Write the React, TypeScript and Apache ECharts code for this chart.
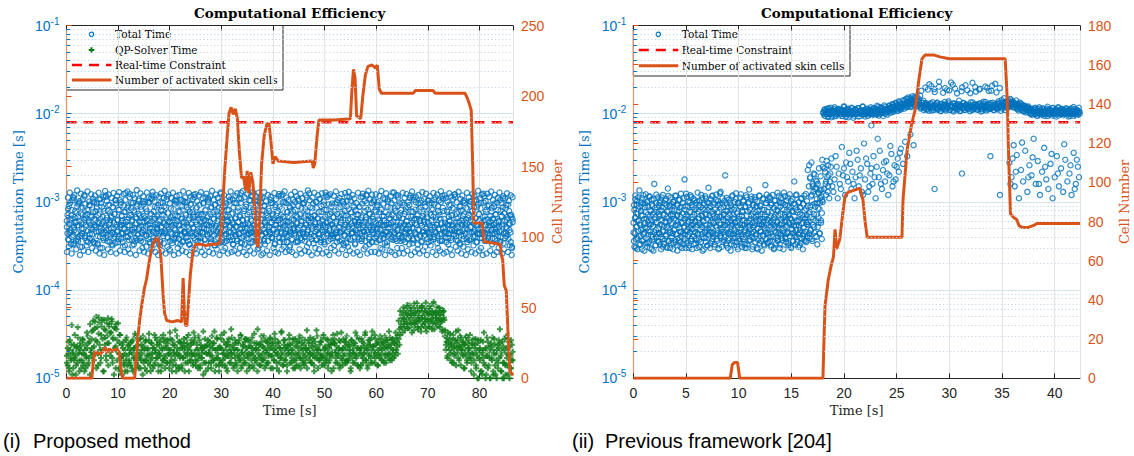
import { useEffect, useRef } from 'react';
import * as echarts from 'echarts';

const BLUE = '#0072BD';
const ORANGE = '#D95319';
const GREEN = '#0E7A16';
const RED = '#FF0000';
const AX = '#262626';
const SERIF = '"DejaVu Serif", serif';
const SANS = '"Liberation Sans", Arial, sans-serif';

// ---------- panel (i): Proposed method ----------
const leftSpan = [0, 86.5];
const leftCellsMax = 250;
// Total time, three uniformly sampled read-outs of the cloud, unit 1e-5 s
const blueLeft = [
  52,71,38,90,45,63,33,81,57,42,110,48,67,36,75,54,95,40,61,31,86,50,44,72,58,120,39,66,47,83,35,60,
  92,43,55,70,37,101,49,64,34,78,53,88,41,59,46,74,30,97,56,68,39,84,51,45,115,62,36,79,48,93,58,42,
  67,33,87,50,73,40,104,55,46,62,38,81,52,94,44,69,35,58,77,49,126,41,63,54,90,37,71,47,85,60,32,98,
  45,76,56,39,65,89,43,107,51,70,36,82,59,48,95,42,66,53,31,78,61,100,46,57,34,73,50,118,40,64,88,55,
  38,69,49,92,44,60,35,80,53,72,41,111,57,47,86,63,39,75,52,29,96,45,67,58,37,83,50,70,43,99,61,34,
  79,54,42,91,48,65,36,103,57,46,74,39,87,52,62,33,77,44,95,58,41,68,50,113,37,84,55,47,71,40,93,60,
  35,73,51,45,98,62,38,82,56,43,69,106,48,59,34,88,53,41,76,64,32,94,47,57,72,39,85,51,44,124,66,37,
  90,55,42,70,49,36,81,61,46,101,54,40,74,58,33,87,45,65,52,96,38,78,59,43,68,35,109,50,63,41,83,56,
  47,94,39,72,57,44,86,34,64,51,117,41,77,55,48,91,37,68,60,30,80,46,99,53,42,71,38,89,58,45,75,62,
  36,84,52,43,105,59,40,73,49,66,33,92,55,46,79,62,39,88,50,71,44,122,57,35,67,53,97,41,76,48,60,31,
  86,45,63,38,78,54,47,100,42,69,57,35,90,51,44,74,61,37,95,49,66,40,83,55,112,46,70,34,58,87,43,64,
  50,96,41,71,56,37,85,48,65,44,108,53,39,77,60,46,93,35,68,52,81,42,59,119,47,73,38,89,55,43,66,32,
  78,57,45,99,40,67,51,36,87,62,47,74,34,94,55,42,70,58,103,39,83,49,64,37,76,53,45,91,61,33,80,48,
  44,72,59,38,88,50,66,41,115,54,46,79,36,63,97,48,57,40,73,52,85,35,68,45,101,60,39,77,51,43,93,56,
  62,37,82,48,69,43,95,55,34,76,58,45,107,41,65,52,86,38,71,47,60,128,44,79,54,36,90,50,67,42,75,58,
  40,98,53,46,73,35,84,61,49,68,39,92,56,44,78,51,113,37,64,57,82,43,70,33,96,48,61,41,87,54,45,74,
  59,42,89,50,66,38,104,57,45,75,36,83,52,68,40,95,47,62,55,34,79,49,71,43,99,58,37,86,51,64,46,110,
  35,77,56,44,93,61,39,70,48,85,53,42,121,58,37,74,50,66,45,88,33,80,57,47,69,41,97,54,63,38,83,49,
  71,45,102,52,38,79,60,46,88,41,65,54,35,94,50,73,43,84,57,39,67,48,116,62,44,77,36,90,53,58,42,69,
  48,85,39,63,55,96,43,72,51,37,81,59,46,105,40,68,53,87,34,75,61,44,92,50,66,38,79,56,45,71,30,64,
];
const blueLeft2 = [
  61,44,83,37,56,97,48,70,40,65,113,52,34,78,59,45,89,38,67,53,102,42,74,57,31,86,49,63,41,95,55,36,72,47,81,
  58,39,92,50,68,43,76,35,99,54,62,46,84,33,71,57,107,40,64,51,88,44,60,37,79,53,118,48,66,42,93,56,35,75,50,
  69,45,87,39,58,73,34,96,52,63,47,82,41,105,55,38,70,61,44,91,50,32,77,59,46,85,40,66,54,123,43,71,37,62,48,
  80,51,36,67,57,94,42,73,49,60,39,88,53,45,101,35,69,58,47,83,41,64,55,38,97,50,74,43,61,109,46,78,33,65,52,
  44,86,56,41,72,63,37,98,51,46,79,58,34,90,45,67,54,115,40,75,49,60,36,84,53,43,70,62,39,95,48,57,104,42,68,
  55,38,77,49,64,42,89,35,60,52,100,44,71,57,40,82,47,65,33,93,56,45,76,51,120,39,68,59,43,87,36,63,50,74,46,
  39,71,59,45,96,50,37,80,62,48,66,41,110,54,44,73,35,86,57,49,64,42,92,53,38,78,61,46,69,34,99,52,43,83,58,
  72,47,35,90,55,43,68,60,40,81,52,106,45,63,37,75,56,48,97,41,66,53,36,85,59,44,71,50,127,39,62,54,46,79,33,
  50,88,42,64,57,38,76,48,103,45,61,35,83,54,69,43,94,51,40,73,58,47,112,37,65,55,42,80,49,36,91,60,44,70,53,
  66,41,79,52,45,97,58,39,70,48,62,34,87,55,43,75,51,116,40,64,57,46,84,38,68,53,99,44,61,49,35,77,59,42,89,
  47,74,56,37,92,50,63,44,81,35,58,67,49,108,42,72,54,39,86,60,45,95,51,36,70,57,43,78,48,62,125,40,66,53,38,
  85,53,41,69,59,46,100,38,65,52,77,43,57,35,90,48,63,55,40,82,47,118,58,44,71,36,94,50,61,42,76,56,39,67,51,
  43,96,60,48,73,39,84,52,45,66,58,37,102,49,70,41,79,55,34,89,46,62,53,113,38,75,57,44,68,50,87,40,59,47,72,
  57,40,71,55,88,44,62,36,95,51,47,76,59,42,67,121,45,82,53,38,73,61,48,98,35,64,52,43,80,56,41,91,49,63,37,
  76,49,58,42,83,54,39,69,61,107,46,55,35,88,50,72,43,64,57,97,40,74,52,45,85,38,66,59,47,119,42,70,54,36,81,
  51,65,37,93,56,44,78,49,60,38,86,53,46,111,41,68,58,34,77,50,63,45,99,55,39,72,48,84,42,61,57,104,36,69,47,
  63,42,87,50,74,46,59,35,96,54,40,71,62,48,82,38,105,52,45,67,57,41,90,49,76,36,64,56,43,117,51,79,44,58,39,
  45,80,54,39,68,60,48,92,37,71,56,43,84,50,114,41,65,53,36,77,59,46,89,42,62,55,101,38,73,49,44,86,57,35,66,
  70,37,94,52,61,45,79,40,57,102,48,66,35,87,54,43,73,62,39,97,50,58,46,124,41,69,55,37,82,48,63,44,91,53,60,
  54,78,43,65,50,89,38,72,58,46,98,41,61,53,36,80,47,69,56,110,44,74,39,85,52,63,42,93,57,48,71,35,67,31,59,
];
const blueLeft3 = [
  27,112,31,128,45,26,104,33,119,58,29,135,36,98,25,124,41,107,28,115,70,32,131,27,101,38,122,30,109,52,
  118,28,96,34,127,26,108,47,30,114,25,133,39,102,29,121,62,27,111,32,126,43,105,26,117,35,129,28,99,55,
  31,123,27,106,40,131,29,113,26,97,48,120,33,110,25,136,37,103,28,125,66,30,116,27,100,42,128,26,112,35,
  109,29,130,36,101,27,119,51,25,114,32,124,28,98,44,134,26,107,31,121,59,28,111,34,127,25,104,39,117,30,
  26,120,33,105,28,132,46,112,27,99,36,126,25,115,30,108,72,29,123,26,102,41,118,31,129,27,110,54,25,113,
  124,31,100,27,116,38,134,26,106,32,121,29,111,49,25,128,35,103,28,119,30,96,63,26,114,37,131,27,107,33,
  28,117,42,125,26,109,30,98,34,133,27,113,57,25,122,31,104,28,118,45,129,26,101,36,115,29,127,32,110,25,
  111,26,129,33,102,28,120,47,25,114,39,97,30,126,27,108,61,26,123,35,117,29,99,31,132,27,112,40,105,28,
  32,121,27,106,50,130,25,116,36,103,29,124,26,110,43,98,28,119,31,135,27,104,68,25,112,34,127,30,100,26,
  119,29,108,37,125,26,101,33,128,27,114,53,25,122,30,96,41,117,28,131,35,105,26,111,46,123,29,99,32,126,
  25,115,31,130,28,103,44,120,26,109,34,97,27,127,60,25,113,38,124,29,102,31,118,26,134,33,107,27,121,48,
  105,27,122,35,99,26,117,30,133,29,110,42,25,125,32,101,56,28,116,27,128,37,104,25,119,30,112,26,96,39,
  30,127,26,111,45,123,28,100,33,118,25,131,38,106,27,114,64,29,120,26,98,35,129,28,108,31,124,25,103,43,
  116,32,97,27,126,40,113,25,121,30,104,28,132,36,109,26,119,52,27,101,33,125,29,115,25,107,47,122,31,99,
  28,130,34,108,26,118,31,103,58,25,127,29,112,37,100,27,123,32,117,26,106,44,134,28,110,30,121,25,98,36,
  102,26,124,39,114,28,131,33,105,25,120,49,27,111,30,128,35,97,26,116,29,109,41,125,27,103,32,119,25,113,
];
// QP-solver time, two uniformly sampled read-outs, unit 1e-6 s
const greenLeft = [
  18,14,26,12,21,16,40,19,13,24,17,11,22,15,29,20,
  16,23,13,19,27,15,12,21,18,33,14,25,17,11,20,28,
  22,35,16,44,27,13,38,19,49,24,15,31,46,21,12,36,
  29,18,42,25,14,39,33,20,47,17,28,11,37,23,41,16,
  20,13,25,31,17,11,22,15,19,12,27,18,14,24,16,21,
  14,26,19,12,22,17,30,15,20,24,13,18,28,16,21,11,
  23,16,13,27,18,21,15,32,19,12,25,17,22,14,20,29,
  17,24,20,14,19,26,12,22,16,31,18,13,23,15,27,19,
  21,15,28,18,12,24,20,16,35,14,22,19,26,13,17,25,
  13,22,17,25,20,15,29,18,23,12,21,16,27,19,14,33,
  26,18,14,21,16,30,19,13,24,17,22,11,20,28,15,23,
  19,27,15,20,23,13,18,25,16,34,21,14,29,17,22,12,
  16,22,31,14,19,26,17,21,13,24,18,28,15,20,36,19,
  24,14,19,27,15,21,12,25,18,16,30,20,14,23,17,26,
  15,28,20,17,23,13,26,19,22,14,18,32,16,21,25,12,
  21,17,24,14,30,19,16,22,13,27,20,15,25,18,23,29,
  18,25,13,21,16,28,23,15,19,26,12,22,17,33,20,14,
  27,16,22,18,14,24,20,31,15,21,17,25,13,19,28,16,
  14,23,19,26,17,13,29,21,16,24,18,15,22,35,20,27,
  22,18,15,25,20,28,14,17,23,19,30,13,21,16,26,18,
  17,29,21,14,23,16,19,27,15,22,18,24,12,20,31,25,
  25,15,20,32,18,22,13,26,17,21,14,28,19,23,16,30,
  16,24,18,21,13,27,20,15,25,19,33,17,22,14,28,21,
  20,14,26,17,23,19,31,16,22,13,24,18,27,15,21,34,
  23,18,15,28,20,25,14,21,17,30,19,24,16,26,22,18,
  15,27,22,19,34,16,24,18,28,21,17,25,20,29,23,31,
  45,36,58,41,52,33,64,47,39,55,43,68,37,50,60,42,
  53,40,62,35,48,57,44,71,38,51,46,59,34,65,49,41,
  56,43,37,61,47,53,39,66,45,58,36,50,73,42,55,48,
  40,57,46,63,38,52,44,60,35,49,30,21,26,17,33,23,
  28,19,24,15,31,22,18,27,14,25,20,35,16,23,29,19,
  21,26,13,24,18,30,15,22,27,17,20,12,25,19,28,16,
  24,14,20,10,27,17,22,12,19,11,26,15,21,10,18,29,
  13,23,17,10,25,16,21,11,28,14,19,10,24,15,22,36,
  18,12,26,15,10,21,14,30,17,11,23,19,13,27,16,20,
];
const greenLeft2 = [
  15,22,19,13,27,17,24,11,20,16,31,18,14,23,38,19,12,25,
  21,16,28,14,19,24,13,17,22,30,15,26,41,20,34,18,45,23,
  37,19,50,26,14,32,43,21,17,39,28,12,46,24,35,16,30,48,
  25,41,18,33,44,15,29,38,22,13,36,27,42,19,31,12,17,24,
  18,26,14,21,16,29,12,23,19,15,25,20,13,27,17,22,32,16,
  23,14,20,28,17,13,24,19,30,15,21,26,16,12,22,18,27,14,
  16,25,19,13,22,31,15,20,27,17,12,24,18,29,14,21,16,26,
  28,17,22,15,25,19,13,33,21,16,27,14,20,24,18,12,30,19,
  13,21,26,18,14,23,17,28,12,22,19,25,15,31,20,16,24,18,
  25,15,19,29,16,21,24,13,18,27,14,22,17,20,34,15,23,12,
  19,24,13,20,26,18,15,30,22,16,25,12,21,17,28,19,14,23,
  15,28,21,16,19,33,14,24,18,12,26,20,23,15,17,29,21,13,
  22,17,25,14,21,18,27,16,31,13,20,24,19,15,28,22,12,18,
  27,14,19,23,16,29,20,13,25,17,22,15,36,19,24,14,18,26,
  16,23,30,17,20,14,26,21,15,19,28,13,22,18,25,16,32,20,
  20,13,18,25,15,22,17,34,19,14,24,27,16,21,12,23,19,28,
  24,19,15,21,28,16,13,23,18,26,20,14,30,17,22,25,15,19,
  14,27,22,17,13,20,25,16,29,19,15,23,18,12,26,21,35,17,
  21,16,24,19,26,14,18,31,15,22,17,28,20,13,24,16,19,27,
  18,25,13,28,20,17,23,15,19,27,14,21,33,16,22,18,26,15,
  26,15,21,16,24,19,12,27,17,23,20,15,25,18,30,14,22,19,
  13,22,28,18,15,25,20,33,16,21,14,27,19,24,17,29,15,23,
  20,31,17,24,19,14,26,18,22,28,16,21,25,15,30,19,23,27,
  17,24,19,29,22,16,27,20,25,18,33,21,26,19,28,24,31,38,
  48,39,57,44,35,62,50,41,54,37,67,46,59,33,52,43,70,40,
  55,42,63,36,49,58,45,38,66,51,40,60,47,72,34,56,44,53,
  38,61,47,54,42,69,36,57,50,45,64,39,52,59,43,47,34,56,
  58,46,35,24,29,18,26,21,32,16,25,20,28,15,23,19,34,22,
  27,17,23,30,14,21,26,18,24,13,20,29,16,25,19,22,31,17,
  15,24,19,11,22,28,13,18,25,10,21,16,27,12,20,17,33,14,
  22,11,18,26,14,20,10,23,17,29,12,19,24,11,16,21,13,27,
  17,25,12,20,10,23,15,28,11,19,14,22,26,10,18,13,24,16,
];
// Number of activated skin cells [time s, cells]
const cellsLeft = [
  [0,0],[4.9,0],[5.2,12],[5.5,19],[6.0,18],[6.5,17],[7.0,19],[7.5,22],[7.9,18],[8.3,21],[8.8,19],[9.3,20],
  [9.8,21],[10.2,18],[10.6,6],[10.9,0],[13.2,0],[13.5,14],[13.8,28],[14.2,42],[14.7,55],[15.1,64],[15.5,70],
  [16.0,82],[16.5,92],[17.0,97],[17.5,100],[17.9,97],[18.3,85],[18.7,60],[19.0,46],[19.4,41],[20.5,40],
  [21.5,41],[22.3,40],[22.6,71],[22.8,50],[23.0,38],[23.3,37],[23.6,52],[24.0,74],[24.5,90],[25.0,95],
  [26.0,95],[27.0,94],[28.0,95],[29.0,95],[29.7,96],[30.0,105],[30.3,125],[30.7,150],[31.1,170],[31.5,188],
  [31.9,192],[32.3,187],[32.7,191],[33.1,184],[33.5,160],[33.9,142],[34.3,143],[34.7,133],[35.0,147],
  [35.3,131],[35.7,146],[36.1,139],[36.5,120],[36.8,96],[37.1,93],[37.4,112],[37.8,152],[38.3,172],
  [38.8,180],[39.2,181],[39.6,168],[40.0,152],[40.4,157],[41.0,154],[44.0,153],[47.6,154],[47.8,149],
  [48.1,152],[48.5,170],[48.9,183],[52.0,183],[55.0,184],[55.3,205],[55.6,219],[55.9,213],[56.2,186],
  [57.0,184],[57.4,200],[57.9,215],[58.4,221],[59.2,222],[59.8,220],[60.2,222],[60.6,205],[61.0,202],
  [67.2,202],[67.6,204],[71.0,204],[71.4,202],[77.2,202],[77.6,199],[78.0,195],[78.4,190],[78.7,150],
  [78.9,110],[80.5,110],[80.9,97],[84.0,95],[84.2,88],[84.5,84],[84.8,66],[85.2,62],[85.5,35],[85.9,5],[86.5,2],
];

// ---------- panel (ii): Previous framework ----------
const rightSpan = [0, 42.4];
const rightCellsMax = 180;
const rightSwitch = 18.0;
// Total time before 18 s, unit 1e-5 s
const blueRightEarly = [
  45,92,31,66,118,38,74,53,102,29,61,84,41,135,57,33,79,48,110,36,70,95,43,58,28,87,51,122,39,64,
  99,34,72,47,115,56,30,81,62,42,106,37,90,53,28,76,160,45,67,32,97,59,40,85,113,50,35,73,44,104,
  63,29,88,54,38,120,46,71,33,96,60,41,108,31,78,52,142,36,66,91,48,30,112,57,39,83,69,44,100,34,
  80,49,117,35,62,43,94,28,71,55,105,37,86,46,31,124,58,40,75,98,33,64,51,180,42,89,30,68,114,47,
  36,101,59,32,77,45,119,54,38,92,29,67,49,109,41,83,61,34,97,52,30,74,128,44,65,37,103,56,31,87,
  70,43,111,28,60,93,39,81,50,116,35,72,47,99,32,63,145,42,85,55,30,107,46,78,36,118,58,40,69,94,
  33,84,53,121,38,66,44,102,29,76,57,95,41,130,48,68,31,110,52,87,37,73,42,200,61,34,96,49,79,30,
  59,106,39,71,46,28,91,54,115,36,65,43,82,32,100,57,48,125,35,74,60,29,98,45,69,38,112,51,86,41,
  31,77,62,104,40,55,33,89,47,119,30,70,58,43,96,36,138,53,81,37,64,108,44,29,75,52,92,39,113,57,
  88,42,68,30,101,50,37,79,61,117,34,90,46,56,28,83,65,41,109,54,32,72,155,47,97,38,63,105,44,35,
  66,114,36,58,93,31,75,49,120,40,62,29,86,53,103,45,34,80,59,127,37,70,51,99,30,88,43,111,56,39,
  97,47,29,82,60,116,39,67,35,104,53,44,91,32,73,58,122,41,85,30,63,49,107,36,78,54,170,42,94,33,
  54,121,40,76,48,31,99,62,45,87,34,110,57,38,71,29,95,51,118,43,66,36,84,59,102,41,230,55,74,260,
  39,190,88,47,280,120,36,150,64,210,52,95,140,41,175,72,108,33,160,85,58,125,44,98,135,62,115,38,105,250,
];
const blueRightEarly2 = [
  58,36,81,44,107,30,67,52,93,39,74,113,47,62,33,88,55,41,99,70,29,84,49,119,37,64,45,96,57,34,
  76,50,31,102,60,42,87,35,68,115,46,79,56,29,94,40,72,53,108,38,63,85,32,48,121,58,43,77,36,91,
  44,69,97,33,55,80,40,112,62,47,31,86,53,74,38,103,59,42,93,66,30,78,50,117,36,61,89,45,71,34,
  95,41,57,73,29,100,48,65,37,84,54,118,43,70,32,91,60,39,77,51,106,35,67,46,88,58,30,75,44,110,
  53,82,38,65,47,124,34,71,56,90,42,60,30,98,51,76,36,114,49,63,41,87,57,33,72,104,45,59,38,83,
  37,101,55,43,78,31,66,92,48,58,35,120,52,69,40,85,61,29,96,46,74,39,109,54,64,32,81,50,43,97,
  70,45,34,89,60,51,116,38,73,44,99,57,31,82,66,42,105,53,36,76,48,92,62,30,68,125,41,56,85,39,
  49,94,63,35,71,46,103,55,40,79,32,111,58,67,44,88,37,74,52,98,43,61,33,84,56,119,39,72,47,65,
  86,39,59,108,45,31,75,53,96,41,64,36,90,57,48,122,34,69,55,80,38,101,47,62,30,87,51,42,113,60,
  33,78,52,44,99,61,37,84,49,70,115,40,58,31,93,46,67,54,106,35,76,43,63,89,50,29,72,56,118,41,
  64,47,91,36,73,55,42,107,59,33,81,50,68,38,97,45,121,57,34,77,62,48,87,40,110,53,69,32,94,58,
  41,85,56,30,67,104,47,72,39,92,51,60,36,79,44,117,55,33,74,63,98,42,57,83,37,66,50,128,45,71,
  93,52,38,76,61,45,112,34,70,57,88,41,65,31,102,49,79,44,58,36,95,53,68,40,84,119,47,62,35,81,
  60,43,99,54,32,73,48,86,39,109,57,66,42,94,51,37,80,64,46,123,35,71,56,41,90,59,150,44,76,185,
  48,115,67,38,92,160,55,132,73,45,205,88,61,145,40,170,97,52,128,66,240,83,44,110,195,58,138,75,300,100,
];
// Total time after 18 s (main band), unit 1e-4 s
const blueRightLate = [
  104,97,112,100,93,108,115,99,106,91,110,102,96,118,105,94,109,101,113,98,
  107,95,111,100,121,103,92,109,99,114,105,96,108,117,102,90,106,112,98,104,
  101,115,94,108,103,97,119,105,110,93,100,113,107,96,111,102,74,109,99,116,
  106,98,112,104,120,95,109,101,117,103,108,124,100,114,97,111,106,122,102,118,
  110,126,105,119,113,131,108,122,116,135,111,128,119,142,114,125,132,118,147,121,
  138,127,150,119,134,145,124,156,130,141,122,137,128,160,118,133,125,140,116,131,
  112,126,188,108,119,131,205,115,123,110,176,128,117,134,113,230,121,107,129,118,
  114,127,196,109,122,116,138,184,111,125,119,213,106,130,117,124,170,112,128,120,
  108,123,199,115,131,110,126,118,185,113,121,107,135,119,224,112,127,116,178,122,
  111,129,117,192,106,124,114,137,120,203,109,126,118,181,113,132,115,208,121,110,
  127,116,174,112,130,119,195,108,125,114,136,121,110,133,117,128,140,122,147,131,
  126,138,118,132,123,141,115,129,120,134,113,127,117,124,108,121,112,119,105,116,
  109,101,113,97,107,104,115,99,111,95,106,102,118,100,110,96,105,112,98,108,
  103,114,94,107,100,111,97,105,116,99,108,102,93,110,104,117,98,106,101,113,
  96,109,102,115,99,107,93,104,112,98,106,101,119,95,108,103,111,97,105,100,
];
const blueRightLate2 = [
  102,110,95,107,99,114,92,105,101,117,97,109,104,93,112,100,106,96,113,103,
  98,111,104,94,108,101,119,96,106,113,100,91,110,103,97,115,105,99,108,94,
  112,99,105,116,93,107,102,110,96,121,104,98,109,101,114,95,106,111,100,118,
  103,96,115,108,100,112,97,123,105,110,99,118,106,102,114,94,109,120,104,111,
  116,107,124,112,119,105,129,114,121,110,133,117,125,108,138,120,113,130,118,127,
  122,141,130,148,126,136,153,133,120,145,139,158,128,150,135,143,124,155,137,146,
  128,115,182,121,133,110,126,198,118,130,112,124,215,116,127,109,135,119,190,123,
  117,132,111,125,202,120,108,129,114,173,122,136,113,127,186,118,131,110,124,226,
  120,109,131,116,193,125,112,128,119,140,107,123,180,115,133,121,111,210,126,117,
  113,127,118,171,124,110,134,121,116,200,128,112,125,119,188,131,114,122,108,130,
  124,115,136,120,197,112,129,117,126,182,119,133,110,125,218,121,130,116,138,123,
  132,119,143,127,121,150,129,136,124,140,117,133,126,145,122,135,128,119,131,125,
  120,113,127,109,122,116,130,111,118,106,124,114,103,119,110,121,107,115,100,112,
  106,98,111,103,117,100,108,95,113,104,99,110,97,115,102,107,94,109,101,120,
  100,112,97,106,103,116,95,108,101,111,98,105,118,96,107,102,113,99,104,109,
  108,99,104,113,96,110,101,107,94,115,100,106,98,112,103,97,109,102,117,105,
];
// Scattered total-time samples below the band after 18 s [time s, unit 1e-4 s]
const blueRightScattered = [
  [18.1,14],[18.2,22],[18.3,17],[18.3,12],[18.4,19],[18.5,26],[18.5,15],[18.6,11],[18.7,21],[18.8,31],
  [19.0,13],[19.1,18],[19.3,25],[19.4,11],[19.6,16],[19.8,42],[19.9,20],[20.1,12],[20.2,28],[20.4,17],
  [20.5,36],[20.7,14],[20.8,22],[21.0,11],[21.1,19],[21.3,30],[21.4,15],[21.6,24],[21.8,12],[21.9,46],
  [22.0,18],[22.2,27],[22.3,13],[22.5,21],[22.7,16],[22.8,33],[23.0,11],[23.1,25],[23.3,19],[23.4,38],
  [23.6,14],[23.7,23],[23.9,17],[24.0,29],[24.2,12],[24.3,20],[24.5,35],[24.6,15],[24.8,26],[24.9,18],
  [25.1,31],[25.2,22],[25.4,40],[25.6,27],[25.8,48],[26.0,33],[26.3,58],[26.6,44],
  [28.6,14],[31.2,21],[33.9,33],[34.8,12],
  [35.7,28],[35.9,19],[36.1,44],[36.2,15],[36.4,34],[36.6,11],[36.8,23],[37.0,17],[37.2,38],[37.4,13],
  [37.6,26],[37.8,20],[38.0,52],[38.2,16],[38.4,29],[38.6,12],[38.8,22],[39.0,41],[39.2,18],[39.4,14],
  [39.6,27],[39.8,11],[40.0,19],[40.2,33],[40.4,15],[40.6,24],[40.8,13],[41.0,30],[41.2,17],[41.4,21],
  [41.6,12],[41.8,36],[42.0,16],[42.2,25],[42.3,19],
  [18.15,24],[18.25,16],[18.35,29],[18.45,13],[18.55,20],[18.65,17],[18.75,25],[18.9,15],[19.2,33],[19.5,21],
  [19.7,14],[20.0,24],[20.3,19],[20.6,27],[20.9,16],[21.2,38],[21.5,20],[21.7,13],[22.1,31],[22.4,15],
  [22.6,24],[22.9,19],[23.2,52],[23.5,16],[23.8,28],[24.1,21],[24.4,43],[24.7,17],[25.0,25],[25.3,36],
  [35.8,16],[36.0,31],[36.3,22],[36.9,47],[37.5,19],[37.9,32],[38.5,16],[39.1,25],[39.7,35],[40.3,21],
  [40.9,45],[41.5,26],[41.9,14],[42.1,30],
];
const cellsRight = [
  [0,0],[9.2,0],[9.4,7],[9.6,8],[9.9,8],[10.1,0],[18.0,0],[18.1,20],[18.2,37],[18.5,50],[18.8,58],[19.0,62],
  [19.15,76],[19.3,66],[19.6,71],[19.9,85],[20.1,93],[20.4,95],[21.0,96],[21.5,97],[21.8,91],[22.0,80],
  [22.2,72],[25.5,72],[25.6,91],[26.0,117],[26.4,129],[26.75,137],[27.1,152],[27.4,163],[27.7,165],
  [28.5,165],[29.1,164],[30.0,163],[35.3,163],[35.5,142],[35.6,118],[35.8,84],[36.1,82],[36.4,81],
  [36.6,78],[36.9,77],[37.5,77],[38.0,78],[38.3,79],[42.4,79],
];

const realTimeLimit = 0.008; // s
const decades = [-5, -4, -3, -2];
const minorMultipliers = [2, 3, 4, 5, 6, 7, 8, 9];

// ---------- layout ----------
const PANELS = [
  { left: 66.5, right: 513, span: leftSpan, xInterval: 10, cellsMax: leftCellsMax, cellsInterval: 50 },
  { left: 633.3, right: 1080, span: rightSpan, xInterval: 5, cellsMax: rightCellsMax, cellsInterval: 20 },
];
const TOP = 25.5;
const BOTTOM = 378.3;

function sampled(vals: number[], t0: number, t1: number, unit: number) {
  return vals.map((v, i) => [t0 + ((t1 - t0) * (i + 0.5)) / vals.length, v * unit]);
}

function logLabel(v: number) {
  const l = Math.log10(v);
  const e = Math.round(l);
  if (Math.abs(l - e) > 1e-6) return '';
  return `{b|10}{s|${e}}`;
}

function minorGridSeries(p: number, xMax: number, pxPerUnit: number) {
  const lines: any[] = [];
  const ticks: any[] = [];
  const tickLen = 3.5 / pxPerUnit;
  decades.forEach((d) => {
    minorMultipliers.forEach((m) => {
      const v = m * Math.pow(10, d);
      lines.push([{ coord: [0, v] }, { coord: [xMax, v] }]);
      ticks.push([{ coord: [0, v] }, { coord: [tickLen, v] }]);
    });
  });
  return [
    {
      type: 'line', xAxisIndex: p * 2, yAxisIndex: p * 2, data: [], z: 1, silent: true,
      markLine: { silent: true, symbol: ['none', 'none'], label: { show: false }, animation: false,
        lineStyle: { color: '#C3D6E8', width: 1, type: [1.2, 2.4] }, emphasis: { disabled: true }, data: lines },
    },
    {
      type: 'line', xAxisIndex: p * 2, yAxisIndex: p * 2, data: [], z: 6, silent: true,
      markLine: { silent: true, symbol: ['none', 'none'], label: { show: false }, animation: false,
        lineStyle: { color: BLUE, width: 1, type: 'solid' }, emphasis: { disabled: true }, data: ticks },
    },
  ];
}

function legendGraphic(x0: number, x1: number, withQP: boolean) {
  const rows = withQP
    ? ['Total Time', 'QP-Solver Time', 'Real-time Constraint', 'Number of activated skin cells']
    : ['Total Time', 'Real-time Constraint', 'Number of activated skin cells'];
  const ys = withQP ? [34.3, 50, 65, 80] : [34.3, 50, 65.7];
  const h = withQP ? 64.5 : 50.5;
  const children: any[] = [
    { type: 'rect', shape: { x: x0, y: TOP, width: x1 - x0, height: h }, style: { fill: '#fff', stroke: AX, lineWidth: 1 } },
  ];
  const sx0 = x0 + 5.5, sx1 = x0 + 45, sc = x0 + 25;
  rows.forEach((label, i) => {
    const y = ys[i];
    if (label === 'Total Time') {
      children.push({ type: 'circle', shape: { cx: sc, cy: y, r: 2.2 }, style: { fill: 'none', stroke: BLUE, lineWidth: 1.2 } });
    } else if (label === 'QP-Solver Time') {
      children.push({ type: 'rect', shape: { x: sc - 2.8, y: y - 1, width: 5.6, height: 2 }, style: { fill: GREEN } });
      children.push({ type: 'rect', shape: { x: sc - 1, y: y - 2.8, width: 2, height: 5.6 }, style: { fill: GREEN } });
    } else if (label === 'Real-time Constraint') {
      children.push({ type: 'line', shape: { x1: sx0, y1: y, x2: sx1, y2: y }, style: { stroke: RED, lineWidth: 2.5, lineDash: [10, 7] } });
    } else {
      children.push({ type: 'line', shape: { x1: sx0, y1: y, x2: sx1, y2: y }, style: { stroke: ORANGE, lineWidth: 3 } });
    }
    children.push({ type: 'text', x: x0 + 48.5, y, style: { text: label, fill: '#000', fontFamily: SERIF, fontSize: 10.5, align: 'left', verticalAlign: 'middle' } });
  });
  return { type: 'group', z: 100, children };
}

function buildOption() {
  const grid: any[] = [];
  const xAxis: any[] = [];
  const yAxis: any[] = [];
  const series: any[] = [];
  const graphic: any[] = [];

  PANELS.forEach((P, p) => {
    grid.push({ left: P.left, top: TOP, width: P.right - P.left, height: BOTTOM - TOP, containLabel: false });
    const xCommon = { type: 'value', gridIndex: p, min: P.span[0], max: P.span[1], interval: P.xInterval };
    xAxis.push({
      ...xCommon, position: 'bottom',
      axisLine: { show: true, lineStyle: { color: AX, width: 1 } },
      axisTick: { show: true, inside: true, length: 5, lineStyle: { color: AX } },
      axisLabel: { show: true, color: AX, fontFamily: SANS, fontSize: 14, margin: 8, showMaxLabel: false },
      splitLine: { show: true, lineStyle: { color: '#E2E2E2', width: 1 } },
    });
    xAxis.push({
      ...xCommon, position: 'top',
      axisLine: { show: true, onZero: false, lineStyle: { color: AX, width: 1 } },
      axisTick: { show: true, inside: true, length: 5, lineStyle: { color: AX } },
      axisLabel: { show: false }, splitLine: { show: false },
    });
    yAxis.push({
      type: 'log', logBase: 10, gridIndex: p, min: 1e-5, max: 1e-1, position: 'left', splitNumber: 4,
      axisLine: { show: true, lineStyle: { color: BLUE, width: 1 } },
      axisTick: { show: true, inside: true, length: 5, lineStyle: { color: BLUE } },
      axisLabel: {
        show: true, margin: 7, formatter: logLabel,
        rich: {
          b: { color: BLUE, fontFamily: SANS, fontSize: 14 },
          s: { color: BLUE, fontFamily: SANS, fontSize: 10, padding: [0, 0, 9, 0] },
        },
      },
      splitLine: { show: true, lineStyle: { color: '#D3E4F1', width: 1 } },
      minorTick: { show: false }, minorSplitLine: { show: false },
    });
    yAxis.push({
      type: 'value', gridIndex: p, min: 0, max: P.cellsMax, interval: P.cellsInterval, position: 'right',
      axisLine: { show: true, lineStyle: { color: '#E3946F', width: 1.2 } },
      axisTick: { show: true, inside: false, length: 5, lineStyle: { color: ORANGE } },
      axisLabel: { show: true, color: ORANGE, fontFamily: SANS, fontSize: 14, margin: 8 },
      splitLine: { show: false },
    });

    const pxPerUnit = (P.right - P.left) / (P.span[1] - P.span[0]);
    series.push(...minorGridSeries(p, P.span[1], pxPerUnit));
  });

  const circleStyle = { color: 'rgba(0,0,0,0)', borderColor: BLUE, borderWidth: 1.25 };
  const plusPath = 'path://M1.6,0H3.4V1.6H5V3.4H3.4V5H1.6V3.4H0V1.6H1.6Z';
  const circ = (name: string, xi: number, yi: number, data: any[]) => ({
    name, type: 'scatter', xAxisIndex: xi, yAxisIndex: yi, z: 2, symbol: 'circle', symbolSize: 5.2,
    itemStyle: circleStyle, data,
  });
  const plus = (name: string, data: any[]) => ({
    name, type: 'scatter', xAxisIndex: 0, yAxisIndex: 0, z: 2, symbol: plusPath, symbolSize: 5.8,
    itemStyle: { color: GREEN }, data,
  });

  // panel (i)
  series.push(
    circ('Total Time', 0, 0, sampled(blueLeft, leftSpan[0], leftSpan[1], 1e-5)),
    circ('Total Time B', 0, 0, sampled(blueLeft2, leftSpan[0], leftSpan[1], 1e-5)),
    circ('Total Time C', 0, 0, sampled(blueLeft3, leftSpan[0], leftSpan[1], 1e-5)),
    plus('QP-Solver Time', sampled(greenLeft, leftSpan[0], leftSpan[1], 1e-6)),
    plus('QP-Solver Time B', sampled(greenLeft2, leftSpan[0], leftSpan[1], 1e-6)),
    { name: 'Real-time Constraint', type: 'line', xAxisIndex: 0, yAxisIndex: 0, z: 3, symbol: 'none',
      lineStyle: { color: RED, width: 2.5, type: [10, 7] }, data: [[leftSpan[0], realTimeLimit], [leftSpan[1], realTimeLimit]] },
    { name: 'Number of activated skin cells', type: 'line', xAxisIndex: 0, yAxisIndex: 1, z: 4, symbol: 'none',
      lineStyle: { color: ORANGE, width: 3 }, data: cellsLeft },
  );
  // panel (ii)
  series.push(
    circ('Total Time R0', 2, 2, sampled(blueRightEarly, rightSpan[0], rightSwitch, 1e-5)),
    circ('Total Time R0b', 2, 2, sampled(blueRightEarly2, rightSpan[0], rightSwitch, 1e-5)),
    circ('Total Time R1', 2, 2, sampled(blueRightLate, rightSwitch, rightSpan[1], 1e-4)),
    circ('Total Time R1b', 2, 2, sampled(blueRightLate2, rightSwitch, rightSpan[1], 1e-4)),
    circ('Total Time R2', 2, 2, blueRightScattered.map(([t, v]) => [t, v * 1e-4])),
    { name: 'Real-time Constraint R', type: 'line', xAxisIndex: 2, yAxisIndex: 2, z: 3, symbol: 'none',
      lineStyle: { color: RED, width: 2.5, type: [10, 7] }, data: [[rightSpan[0], realTimeLimit], [rightSpan[1], realTimeLimit]] },
    { name: 'Cells R', type: 'line', xAxisIndex: 2, yAxisIndex: 3, z: 4, symbol: 'none',
      lineStyle: { color: ORANGE, width: 3 }, data: cellsRight },
  );

  // texts
  PANELS.forEach((P, p) => {
    const cx = (P.left + P.right) / 2;
    const cy = (TOP + BOTTOM) / 2;
    graphic.push(
      { type: 'text', x: cx, y: 12.5, style: { text: 'Computational Efficiency', fill: '#000', fontFamily: SERIF, fontWeight: 'bold', fontSize: 13.5, align: 'center', verticalAlign: 'middle' } },
      { type: 'text', x: cx, y: 410.5, style: { text: 'Time [s]', fill: AX, fontFamily: SERIF, fontSize: 13, align: 'center', verticalAlign: 'middle' } },
      { type: 'text', x: P.left - 48.5, y: cy, rotation: Math.PI / 2, style: { text: 'Computation Time [s]', fill: BLUE, fontFamily: SERIF, fontSize: 13, align: 'center', verticalAlign: 'middle' } },
      { type: 'text', x: P.right + 44, y: cy, rotation: Math.PI / 2, style: { text: 'Cell Number', fill: ORANGE, fontFamily: SERIF, fontSize: 13, align: 'center', verticalAlign: 'middle' } },
    );
    graphic.push(legendGraphic(P.left, p === 0 ? 283 : 850, p === 0));
  });
  graphic.push(
    { type: 'text', x: 3, y: 441, style: { text: '(i)', fill: '#000', fontFamily: SANS, fontSize: 20, align: 'left', verticalAlign: 'middle' } },
    { type: 'text', x: 33, y: 441, style: { text: 'Proposed method', fill: '#000', fontFamily: SANS, fontSize: 20, align: 'left', verticalAlign: 'middle' } },
    { type: 'text', x: 572, y: 441, style: { text: '(ii)', fill: '#000', fontFamily: SANS, fontSize: 20, align: 'left', verticalAlign: 'middle' } },
    { type: 'text', x: 605, y: 441, style: { text: 'Previous framework [204]', fill: '#000', fontFamily: SANS, fontSize: 20, align: 'left', verticalAlign: 'middle' } },
  );

  return { animation: false, backgroundColor: '#fff', grid, xAxis, yAxis, series, graphic, tooltip: { show: false } };
}

export default function App() {
  const ref = useRef<HTMLDivElement>(null);
  useEffect(() => {
    document.body.style.margin = '0';
    if (!ref.current) return;
    const chart = echarts.init(ref.current, undefined, { renderer: 'svg' });
    chart.setOption(buildOption() as any);
    return () => chart.dispose();
  }, []);
  return (
    <div style={{ position: 'fixed', left: 0, top: 0, width: 1134, height: 456 }}>
      <div ref={ref} style={{ width: 1134, height: 456 }} />
    </div>
  );
}
